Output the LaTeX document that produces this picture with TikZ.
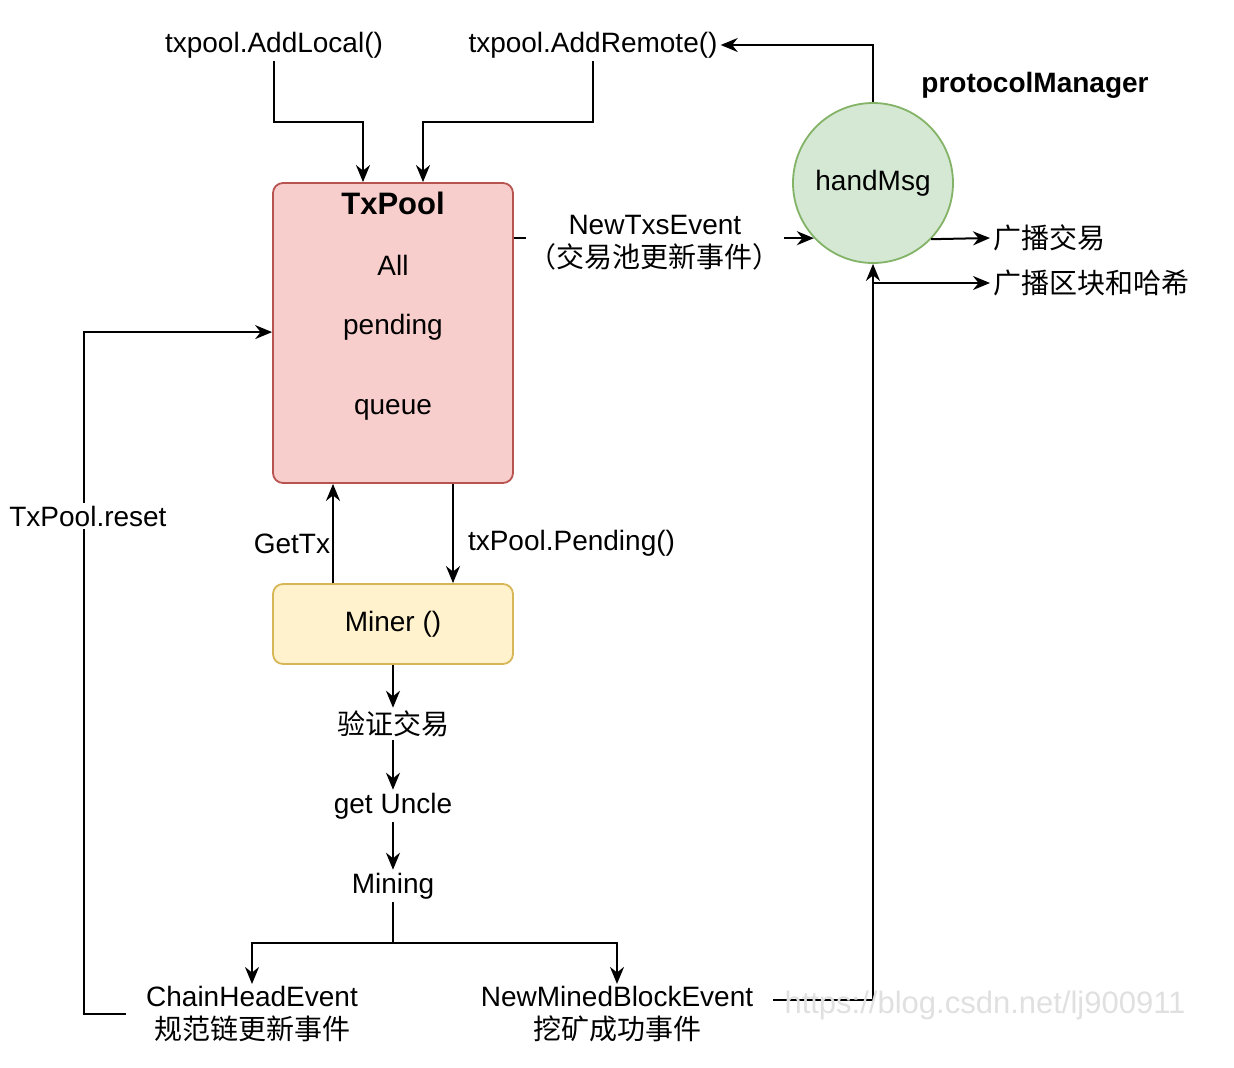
\documentclass[tikz,border=0pt]{standalone}
\usepackage{fontspec}
\setmainfont{Liberation Sans}
\newfontfamily\cjk{Noto Sans CJK SC}
\usetikzlibrary{arrows.meta,calc}
\definecolor{pool-fill}{HTML}{F8CECC}
\definecolor{pool-line}{HTML}{B85450}
\definecolor{miner-fill}{HTML}{FFF2CC}
\definecolor{miner-line}{HTML}{D6B656}
\definecolor{msg-fill}{HTML}{D5E8D4}
\definecolor{msg-line}{HTML}{82B366}

\begin{document}
\begin{tikzpicture}[
    x=1pt, y=-1pt,
    font=\fontsize{28}{33}\selectfont,
    >={Stealth[length=17pt,width=14pt]},
    flow/.style={->, line width=2pt, draw=black},
    box/.style={draw, line width=1.8pt, rounded corners=10pt, minimum width=240pt, inner sep=0pt},
    txt/.style={align=center, inner sep=3pt},
    event/.style={align=center, inner xsep=20pt, inner ysep=2pt},
    tag/.style={fill=white, inner sep=3pt, align=center}
]
\useasboundingbox (0,0) rectangle (1234,1068);

\node[box, draw=pool-line, fill=pool-fill, minimum height=300pt] (txpool) at (393,333) {};
\node[font=\fontsize{31}{36}\selectfont\bfseries] (txpool-title) at (393,203) {TxPool};
\foreach \word/\y in {All/265, pending/327, queue/410}
    \node (txpool-\word) at (393,\y) {\word};
\node[box, draw=miner-line, fill=miner-fill, minimum height=80pt] (miner) at (393,624) {Miner ()};
\node[circle, draw=msg-line, fill=msg-fill, line width=1.8pt, minimum size=160pt] (handmsg) at (873,183) {handMsg};

\node[txt] (addlocal) at (274,45) {txpool.AddLocal()};
\node[txt] (addremote) at (593,45) {txpool.AddRemote()};
\node[txt, font=\fontsize{28}{33}\selectfont\bfseries] (pm) at (1035,85) {protocolManager};
\node[txt, anchor=west] (bcasttx) at (990,238) {\cjk 广播交易};
\node[txt, anchor=west] (bcastblock) at (990,283) {\cjk 广播区块和哈希};

\node[txt] (verify) at (393,724) {\cjk 验证交易};
\node[txt] (uncle) at (393,806) {get Uncle};
\node[txt] (mining) at (393,886) {Mining};
\node[event] (chainhead) at (252,1014) {ChainHeadEvent\\{\cjk 规范链更新事件}};
\node[event] (minedblock) at (617,1014) {NewMinedBlockEvent\\{\cjk 挖矿成功事件}};

\draw[flow] (addlocal.south) -- ++(0,61) -| ([xshift=-30pt]txpool.north);
\draw[flow] (addremote.south) -- ++(0,61) -| ([xshift=30pt]txpool.north);
\draw[flow] (handmsg.north) |- (addremote.east);
\draw[flow] (txpool.east |- handmsg.223.5) -- node[tag, pos=0.47, yshift=-5pt] (newtxs) {NewTxsEvent\\{\cjk （交易池更新事件）}} (handmsg.223.5);
\draw[flow] (handmsg.316.5) -- (bcasttx.west);
\draw[flow] (handmsg.south |- bcastblock.west) -- (bcastblock.west);
\draw[flow] ([yshift=14pt]minedblock.east) -| (handmsg.south);
\draw[flow] (chainhead.west) -- ++(-42,0) |- node[tag, pos=0.365, xshift=4pt] (reset) {TxPool.reset} ([yshift=-150pt]txpool.north west);
\draw[flow] ([xshift=-60pt]miner.north) -- node[anchor=east, pos=0.4, inner sep=2pt] (gettx) {GetTx} ([xshift=-60pt]txpool.south);
\draw[flow] ([xshift=60pt]txpool.south) -- node[anchor=west, pos=0.6, inner xsep=14pt] (pending) {txPool.Pending()} ([xshift=60pt]miner.north);
\draw[flow] (miner) -- (verify);
\draw[flow] (verify) -- (uncle);
\draw[flow] (uncle) -- (mining);
\draw[flow] (mining.south) -- ++(0,41) coordinate (fork) -| (chainhead.north);
\draw[flow] (fork) -| (minedblock.north);

\node[text=black!12, font=\fontsize{31}{36}\selectfont] (watermark) at (985,1005) {https://blog.csdn.net/lj900911};
\end{tikzpicture}
\end{document}
